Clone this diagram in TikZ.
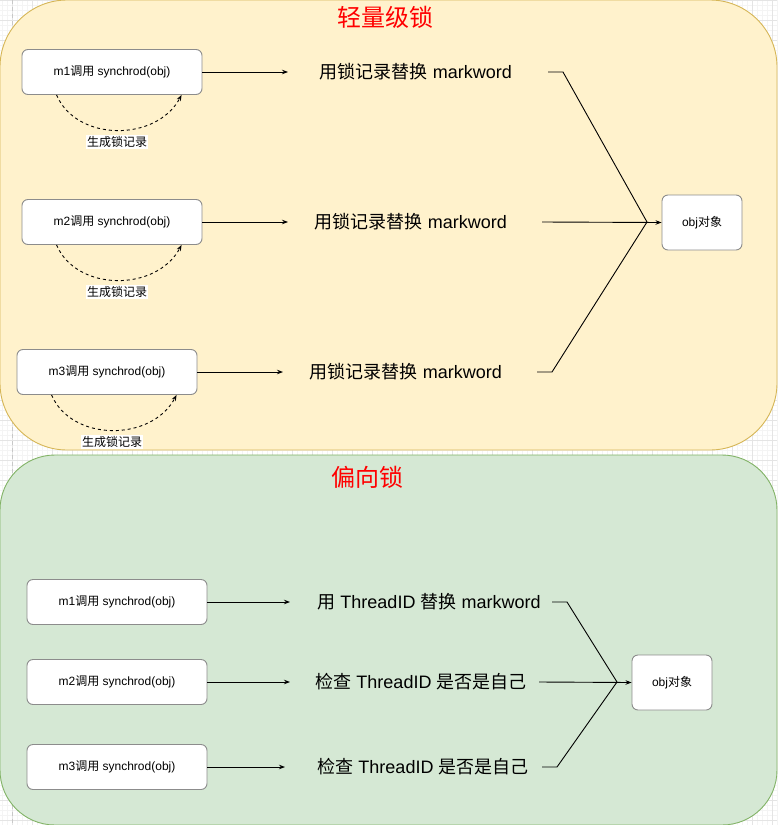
\documentclass[tikz,border=0pt]{standalone}
\usepackage{fontspec}
\setmainfont{Liberation Sans}
\newfontfamily\cjk{Noto Sans CJK SC}
\usetikzlibrary{arrows.meta}
\definecolor{ylfill}{HTML}{FFF2CC}
\definecolor{ylline}{HTML}{D6B656}
\definecolor{grfill}{HTML}{D5E8D4}
\definecolor{grline}{HTML}{82B366}
\definecolor{boxline}{HTML}{8C8C8C}
\definecolor{gridmin}{HTML}{F4F4F4}
\definecolor{gridmaj}{HTML}{E4E4E4}
\definecolor{pagebrk}{HTML}{C8C8C8}
\definecolor{titlered}{HTML}{FF0000}
\begin{document}
\begin{tikzpicture}[x=1pt,y=-1pt,
 callbox/.style={draw=boxline, line width=0.9pt, fill=white, rounded corners=6pt,
   minimum width=180pt, minimum height=45pt, inner sep=0pt, font=\fontsize{12}{14}\selectfont},
 objbox/.style={callbox, minimum width=80pt, minimum height=55pt},
 steptext/.style={inner sep=0pt, font=\fontsize{18}{21}\selectfont},
 titletext/.style={text=titlered, inner sep=0pt, font=\cjk\fontsize{24}{28}\selectfont},
 notetext/.style={fill=white, inner sep=1pt, font=\cjk\fontsize{12}{14}\selectfont},
 flow/.style={line width=0.9pt, -{Stealth[length=6pt,width=4.5pt]}},
 link/.style={line width=0.9pt},
 selfloop/.style={line width=0.9pt, dash pattern=on 3pt off 3pt, -{Stealth[length=6pt,width=4.5pt]}},
 region/.style={line width=0.9pt},
]
\useasboundingbox (0,0) rectangle (777,825);
% background grid
\fill[white] (0,0) rectangle (777,825);
\foreach \gx in {2,7,...,777} \draw[gridmin, line width=0.6pt] (\gx,0) -- (\gx,825);
\foreach \gy in {0,5,...,825} \draw[gridmin, line width=0.6pt] (0,\gy) -- (777,\gy);
\foreach \gx in {12,32,...,777} \draw[gridmaj, line width=0.7pt] (\gx,0) -- (\gx,825);
\foreach \gy in {0,20,...,825} \draw[gridmaj, line width=0.7pt] (0,\gy) -- (777,\gy);
\draw[pagebrk, line width=0.8pt, dash pattern=on 4pt off 3pt] (12,0) -- (12,825);

% regions
\draw[region, draw=ylline, fill=ylfill, rounded corners=67pt] (0,0) rectangle (777,450);
\draw[region, draw=grline, fill=grfill, rounded corners=55pt] (0,455) rectangle (777,825);

% titles
\node[titletext] (title1) at (385,17) {轻量级锁};
\node[titletext] (title2) at (367,477) {偏向锁};

% ---------- lightweight lock ----------
\node[callbox] (b1) at (112,72) {m1{\cjk 调用} synchrod(obj)};
\node[callbox] (b2) at (112,222) {m2{\cjk 调用} synchrod(obj)};
\node[callbox] (b3) at (107,372) {m3{\cjk 调用} synchrod(obj)};

\node[steptext] (t1) at (416,72) {{\cjk 用锁记录替换} markword};
\node[steptext] (t2) at (411,222) {{\cjk 用锁记录替换} markword};
\node[steptext] (t3) at (406,372) {{\cjk 用锁记录替换} markword};

\node[objbox] (obj1) at (702,222.5) {obj{\cjk 对象}};

\coordinate (a1) at (288,72);
\coordinate (a2) at (288,222);
\coordinate (a3) at (283,372);
\draw[flow] (b1.east) -- (a1);
\draw[flow] (b2.east) -- (a2);
\draw[flow] (b3.east) -- (a3);

\coordinate (s1) at (548,72);
\coordinate (k1) at (563,72);
\coordinate (s2) at (542,222);
\coordinate (s3) at (537,372);
\coordinate (k3) at (552,372);
\coordinate (m1) at (647,222);
\draw[link] (s1) -- (k1) -- (m1);
\draw[link] (s3) -- (k3) -- (m1);
\draw[flow] (s2) -- (obj1.west);

\draw[selfloop] ([xshift=35pt]b1.south west) .. controls +(20,47) and +(-25,47) .. ([xshift=160pt]b1.south west);
\draw[selfloop] ([xshift=35pt]b2.south west) .. controls +(20,47) and +(-25,47) .. ([xshift=160pt]b2.south west);
\draw[selfloop] ([xshift=35pt]b3.south west) .. controls +(20,47) and +(-25,47) .. ([xshift=160pt]b3.south west);

\node[notetext] (n1) at (117,142) {生成锁记录};
\node[notetext] (n2) at (117,292) {生成锁记录};
\node[notetext] (n3) at (112,442) {生成锁记录};

% ---------- biased lock ----------
\node[callbox] (d1) at (117,602) {m1{\cjk 调用} synchrod(obj)};
\node[callbox] (d2) at (117,682) {m2{\cjk 调用} synchrod(obj)};
\node[callbox] (d3) at (117,767) {m3{\cjk 调用} synchrod(obj)};

\node[steptext] (u1) at (429,602) {{\cjk 用} ThreadID {\cjk 替换} markword};
\node[steptext] (u2) at (421,682) {{\cjk 检查} ThreadID {\cjk 是否是自己}};
\node[steptext] (u3) at (423,767) {{\cjk 检查} ThreadID {\cjk 是否是自己}};

\node[objbox] (obj2) at (672,682.5) {obj{\cjk 对象}};

\coordinate (e1) at (290,602);
\coordinate (e2) at (290,682);
\coordinate (e3) at (285,767);
\draw[flow] (d1.east) -- (e1);
\draw[flow] (d2.east) -- (e2);
\draw[flow] (d3.east) -- (e3);

\coordinate (r1) at (552,602);
\coordinate (q1) at (567,602);
\coordinate (r2) at (539,682);
\coordinate (r3) at (542,767);
\coordinate (q3) at (557,767);
\coordinate (m2) at (617,682);
\draw[link] (r1) -- (q1) -- (m2);
\draw[link] (r3) -- (q3) -- (m2);
\draw[flow] (r2) -- (obj2.west);
\end{tikzpicture}
\end{document}
